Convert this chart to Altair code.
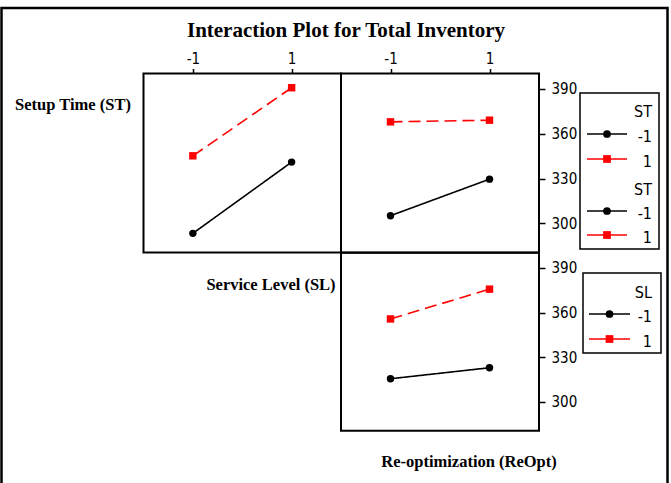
import altair as alt
import pandas as pd

# Factor levels and the group labels used for the lines
levels = [-1, 1]
level_names = ["-1", "1"]

# Mean Total Inventory: Setup Time (ST) lines across Service Level (SL)
st_low_over_sl = [293.4, 341.0]
st_high_over_sl = [345.2, 390.7]
# Setup Time (ST) lines across Re-optimization (ReOpt)
st_low_over_reopt = [305.2, 329.6]
st_high_over_reopt = [367.9, 369.0]
# Service Level (SL) lines across Re-optimization (ReOpt)
sl_low_over_reopt = [315.5, 322.9]
sl_high_over_reopt = [355.7, 375.7]

y_ticks = [300, 330, 360, 390]
x_ticks = [-1, 1]

# Panel geometry (pixel ranges of each cell of the matrix)
X_DOMAIN = [-2, 2]
Y_DOMAIN = [280.6, 400.2]
LEFT_COL = [143.5, 341]
RIGHT_COL = [341, 539]
TOP_ROW = [252.5, 73.5]
BOTTOM_ROW = [430.7, 252.7]
W, H = 671, 483

SANS = "Liberation Sans Narrow, Arial Narrow, DejaVu Sans Condensed, sans-serif"
SERIF = "Liberation Serif, Times New Roman, serif"


def table(low, high):
    rows = []
    for name, vals in ((level_names[0], low), (level_names[1], high)):
        for x, v in zip(levels, vals):
            rows.append({"x": x, "mean": v, "group": name})
    return pd.DataFrame(rows)


color = alt.Color("group:N", scale=alt.Scale(domain=level_names, range=["black", "red"]), legend=None)
dash = alt.StrokeDash("group:N", scale=alt.Scale(domain=level_names, range=[[1, 0], [12, 6]]), legend=None)
shape = alt.Shape("group:N", scale=alt.Scale(domain=level_names, range=["circle", "square"]), legend=None)

top_axis = alt.Axis(orient="top", values=x_ticks, offset=-TOP_ROW[1], tickSize=5, tickWidth=1.5,
                    tickColor="black", domain=False, grid=False, labelPadding=2, labelFont=SANS,
                    labelFontSize=15, labelColor="black", title=None,
                    labelExpr="'' + datum.value", zindex=2)


def right_axis():
    return alt.Axis(orient="right", values=y_ticks, offset=RIGHT_COL[1] - W, tickSize=6, tickWidth=1.5,
                    tickColor="black", domain=False, grid=False, labelPadding=6, labelFont=SANS,
                    labelFontSize=15, labelColor="black", title=None, zindex=2)


def panel(df, xr, yr, x_axis=None, y_axis=None):
    xs = alt.Scale(domain=X_DOMAIN, range=xr, nice=False, zero=False)
    ys = alt.Scale(domain=Y_DOMAIN, range=yr, nice=False, zero=False)
    box = pd.DataFrame({"x0": [X_DOMAIN[0]], "x1": [X_DOMAIN[1]],
                        "y0": [Y_DOMAIN[0]], "y1": [Y_DOMAIN[1]]})
    frame = alt.Chart(box).mark_rect(fill="transparent", stroke="black", strokeWidth=2).encode(
        x=alt.X("x0:Q", scale=xs, axis=x_axis),
        x2="x1",
        y=alt.Y("y0:Q", scale=ys, axis=y_axis),
        y2="y1",
    )
    lines = alt.Chart(df).mark_line(strokeWidth=1.6).encode(
        x=alt.X("x:Q", scale=xs, axis=None),
        y=alt.Y("mean:Q", scale=ys, axis=None),
        color=color,
        strokeDash=dash,
        detail="group:N",
    )
    dots = alt.Chart(df).mark_point(filled=True, opacity=1, size=55).encode(
        x=alt.X("x:Q", scale=xs, axis=None),
        y=alt.Y("mean:Q", scale=ys, axis=None),
        color=color,
        shape=shape,
    )
    return [frame, lines, dots]


def legend(title, title_y, item_y, line_x, box):
    df = pd.DataFrame({"group": level_names})

    def y():
        return alt.Y("group:N", scale=alt.Scale(type="point", domain=level_names, range=item_y, padding=0),
                     axis=None)

    layers = []
    if box is not None:
        layers.append(
            alt.Chart(pd.DataFrame({"k": [0]})).mark_rect(fill="transparent", stroke="black",
                                                          strokeWidth=1.5).encode(
                x=alt.value(box[0]), x2=alt.value(box[1]), y=alt.value(box[2]), y2=alt.value(box[3])))
    layers.append(
        alt.Chart(pd.DataFrame({"t": [title]})).mark_text(align="right", baseline="middle", font=SANS,
                                                          fontSize=16, color="black").encode(
            x=alt.value(652), y=alt.value(title_y), text="t:N"))
    layers.append(
        alt.Chart(df).mark_rule(strokeWidth=1.6).encode(
            x=alt.value(line_x[0]), x2=alt.value(line_x[1]), y=y(), color=color))
    layers.append(
        alt.Chart(df).mark_point(filled=True, opacity=1, size=60).encode(
            x=alt.value((line_x[0] + line_x[1]) / 2), y=y(), color=color, shape=shape))
    layers.append(
        alt.Chart(df).mark_text(align="right", baseline="middle", font=SANS, fontSize=16, dy=3,
                                color="black").encode(x=alt.value(652), y=y(), text="group:N"))
    return layers


def label(text, x, y, size):
    return alt.Chart(pd.DataFrame({"t": [text]})).mark_text(
        align="center", baseline="middle", font=SERIF, fontWeight="bold", fontSize=size,
        color="black").encode(x=alt.value(x), y=alt.value(y), text="t:N")


outer = alt.Chart(pd.DataFrame({"k": [0]})).mark_rect(fill="transparent", stroke="black",
                                                     strokeWidth=2.5).encode(
    x=alt.value(1.5), x2=alt.value(667.5), y=alt.value(8), y2=alt.value(500))

layers = [outer]
layers += panel(table(st_low_over_sl, st_high_over_sl), LEFT_COL, TOP_ROW, x_axis=top_axis)
layers += panel(table(st_low_over_reopt, st_high_over_reopt), RIGHT_COL, TOP_ROW,
                x_axis=top_axis, y_axis=right_axis())
layers += panel(table(sl_low_over_reopt, sl_high_over_reopt), RIGHT_COL, BOTTOM_ROW, y_axis=right_axis())
layers += legend("ST", 112, [134, 159], [587, 627], [580, 659, 93, 249])
layers += legend("ST", 190, [211, 235], [587, 627], None)
layers += legend("SL", 293, [314, 339], [589, 630], [583, 661, 273, 353])
layers.append(label("Interaction Plot for Total Inventory", 346, 31, 21))
layers.append(label("Setup Time (ST)", 73, 105, 16.5))
layers.append(label("Service Level (SL)", 271, 285, 16.5))
layers.append(label("Re-optimization (ReOpt)", 469, 462, 16.5))

chart = alt.layer(*layers).resolve_scale(
    x="independent", y="independent"
).properties(
    width=W, height=H, padding=0, autosize=alt.AutoSizeParams(type="none"),
    background="white",
).configure_view(stroke=None)

chart.save("out.html", embed_options={"renderer": "svg", "actions": False})
